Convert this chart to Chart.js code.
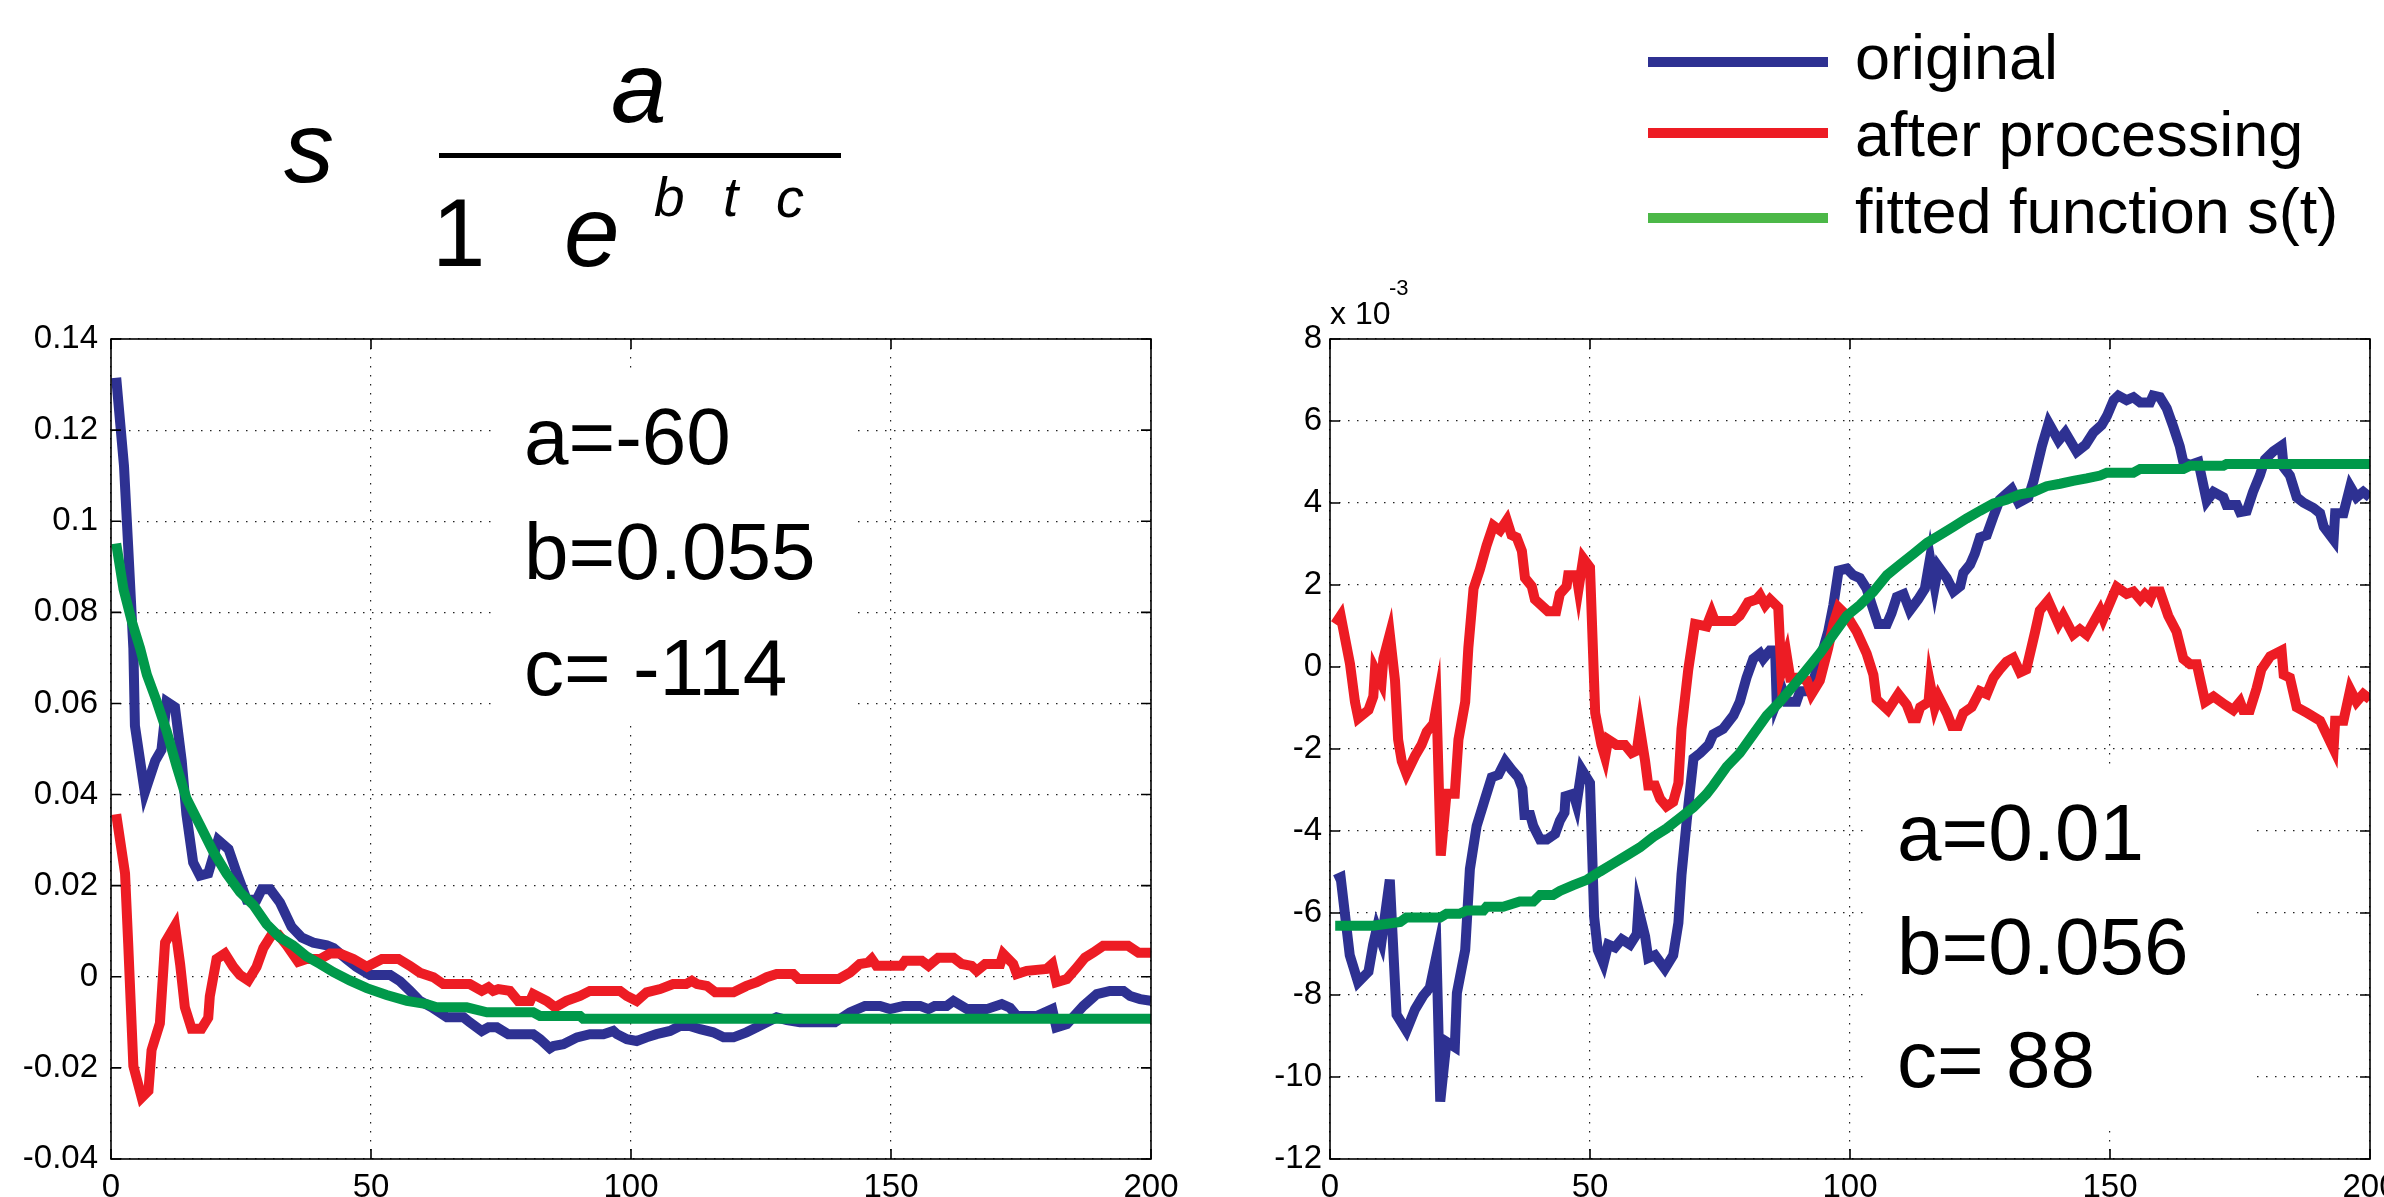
<!DOCTYPE html>
<html><head><meta charset="utf-8">
<script src="https://cdn.jsdelivr.net/npm/chart.js@4.4.1/dist/chart.umd.min.js"></script>
<style>
html,body{margin:0;padding:0;background:#fff;overflow:hidden;width:2384px;height:1197px;}
body{position:relative;font-family:"Liberation Sans",Arial,Helvetica,sans-serif;color:#000;}
.abs{position:absolute;white-space:pre;line-height:1;}
.box{position:absolute;background:#fff;}
canvas{position:absolute;top:300px;}
</style></head><body>
<canvas id="cl" width="1200" height="897" style="left:0px"></canvas>
<canvas id="cr" width="1190" height="897" style="left:1230px"></canvas>
<div id="overlay"></div>
<script>
// ---------- tick values & labels ----------
const xTicks = [0, 50, 100, 150, 200];
const xTickLabels = ['0', '50', '100', '150', '200'];
const leftYTicks = [-0.04, -0.02, 0, 0.02, 0.04, 0.06, 0.08, 0.1, 0.12, 0.14];
const leftYTickLabels = ['-0.04', '-0.02', '0', '0.02', '0.04', '0.06', '0.08', '0.1', '0.12', '0.14'];
const rightYTicks = [-12, -10, -8, -6, -4, -2, 0, 2, 4, 6, 8];
const rightYTickLabels = ['-12', '-10', '-8', '-6', '-4', '-2', '0', '2', '4', '6', '8'];
const seriesNames = ['original', 'after processing', 'fitted function s(t)'];

// ---------- left panel data (t, value) ----------
const leftOrigT = [1,2.5,3.3,4.3,4.6,6.5,8.5,9.7,10.7,12.3,13.6,14.5,15.8,17.1,18.7,20.6,22.6,24.2,26.1,28,29,30.6,32.5,34.7,36.7,38.9,41.5,42.8,45.3,47.2,49.8,53.7,55.6,57.5,59.4,61.7,64.6,67.8,69,71.3,72.6,74.2,76.4,81.2,82.5,84.4,85.1,87,89.6,92.1,94.7,96.6,97.3,99.2,101.1,103,104.9,107.5,109.4,111.3,113.3,115.8,117.8,119.7,122.2,124.2,126.1,128,130,132.5,139.2,142.1,145,147.9,149.8,152.4,155.6,157.2,158.4,160.7,162,164.6,168.4,171.3,172.9,174.2,178,181,181.8,183.8,187,189.6,192.1,194.7,196,197.9,200];
const leftOrigV = [0.1315,0.1121,0.0945,0.0721,0.0551,0.0405,0.0474,0.0498,0.0604,0.0592,0.0474,0.0357,0.0251,0.0222,0.0227,0.0300,0.0280,0.0227,0.0169,0.0169,0.0192,0.0192,0.0163,0.0110,0.0086,0.0075,0.0069,0.0063,0.0039,0.0022,0.0004,0.0004,-0.0010,-0.0031,-0.0053,-0.0067,-0.0089,-0.0089,-0.0100,-0.0119,-0.0111,-0.0111,-0.0126,-0.0126,-0.0137,-0.0157,-0.0152,-0.0148,-0.0133,-0.0126,-0.0126,-0.0119,-0.0126,-0.0137,-0.0141,-0.0133,-0.0126,-0.0119,-0.0108,-0.0108,-0.0115,-0.0122,-0.0133,-0.0133,-0.0122,-0.0111,-0.0100,-0.0089,-0.0095,-0.0100,-0.0100,-0.0078,-0.0064,-0.0064,-0.0071,-0.0064,-0.0064,-0.0071,-0.0064,-0.0064,-0.0053,-0.0071,-0.0071,-0.0060,-0.0068,-0.0086,-0.0086,-0.0071,-0.0111,-0.0104,-0.0064,-0.0038,-0.0031,-0.0031,-0.0042,-0.0049,-0.0053];

const leftProcT = [1,2.7,3.3,4.3,5.9,7.2,7.8,9.4,10.4,12.3,13.3,14.2,15.5,17.4,18.7,19,20.3,21.9,23.5,24.8,26.4,28,29.3,30.9,32.2,33.8,36,37.6,40.2,42.1,44,46.6,49.2,52.1,55.3,57.5,59.4,62,63.9,69,71.3,72.6,73.5,74.5,76.7,78.3,80.6,81.2,83.8,85.4,87.6,90.2,92.1,97.9,99.2,101.1,103,105.6,108.1,110.6,111.7,112.7,114.6,116.2,119.7,122.2,124.2,126.1,128,131.2,132.2,139.9,142.1,144,145.6,146.3,147.2,152,152.7,155.9,157.2,159.1,162,163.6,165.5,166.5,168.1,171,171.6,173.5,174.2,176.1,179.9,181,181.8,183.8,185.7,187.3,188.9,190.8,195.6,197.6,200];
const leftProcV = [0.0357,0.0227,0.0075,-0.0196,-0.0265,-0.0250,-0.0161,-0.0102,0.0075,0.0112,0.0027,-0.0067,-0.0114,-0.0114,-0.0090,-0.0043,0.0039,0.0051,0.0022,0.0004,-0.0008,0.0022,0.0063,0.0092,0.0092,0.0069,0.0033,0.0039,0.0039,0.0051,0.0051,0.0039,0.0022,0.0039,0.0039,0.0024,0.0009,-0.0001,-0.0016,-0.0016,-0.0031,-0.0023,-0.0031,-0.0027,-0.0031,-0.0053,-0.0053,-0.0038,-0.0053,-0.0067,-0.0053,-0.0042,-0.0031,-0.0031,-0.0042,-0.0053,-0.0034,-0.0027,-0.0016,-0.0016,-0.0009,-0.0016,-0.0020,-0.0034,-0.0034,-0.0020,-0.0012,-0.0001,0.0006,0.0006,-0.0005,-0.0005,0.0009,0.0028,0.0031,0.0039,0.0024,0.0024,0.0035,0.0035,0.0024,0.0042,0.0042,0.0028,0.0024,0.0013,0.0028,0.0028,0.0050,0.0028,0.0006,0.0013,0.0017,0.0028,-0.0012,-0.0005,0.0020,0.0042,0.0053,0.0068,0.0068,0.0053,0.0053];

const leftFitT = [1,2.4,4,5.6,6.9,8.8,10.7,12.6,14.5,17.1,19.7,22.2,24.8,27.4,29.9,32.5,35,37.6,40.2,42.8,45.9,49.2,53,56.9,60.7,62.6,68.4,72.3,81.2,82.5,90.2,90.8,200];
const leftFitV = [0.0951,0.0851,0.0780,0.0721,0.0663,0.0604,0.0539,0.0463,0.0392,0.0333,0.0274,0.0227,0.0186,0.0157,0.0116,0.0086,0.0069,0.0045,0.0028,0.0010,-0.0008,-0.0025,-0.0040,-0.0053,-0.0060,-0.0067,-0.0067,-0.0078,-0.0078,-0.0086,-0.0086,-0.0092,-0.0092];

// ---------- right panel data (t, value x 10^-3) ----------
const rightOrigT = [1,2.05,3.8,5.4,7.4,8.3,9,9.9,11.5,12.8,14.7,16.35,17.9,19.2,20.5,21.2,22.4,24,24.4,26,26.9,28.2,29.8,31.1,32.4,33.7,34.9,36.2,37,37.4,38.5,39.1,40.4,41.7,43.3,44.2,45.1,45.3,46.8,47.4,48.4,50,50.8,51.5,52.6,53.5,54.8,56.1,57.7,59,59.3,60.6,61.2,62.5,64.4,66,67,67.6,68.6,69.9,71.2,72.8,73.7,75.6,77.6,78.8,80.1,81.4,82.7,83.3,84.6,85.6,85.9,86.9,87.8,89.7,90.4,92.3,93.3,94.6,95.8,96.8,97.8,99.4,100.6,101.9,103.2,104.2,105.4,107.1,108,109,110.3,111.5,113.1,114.4,115.4,116.3,117,118.6,119.9,121.2,121.8,123.1,124,125,126.3,127.6,128.8,131.1,132.4,134.3,135.3,136.9,138.2,140.1,141.4,143.6,145.3,146.8,148.4,149.4,150.7,151.6,153.2,154.5,155.8,157.7,158.3,159.6,160.9,162.2,163.4,164.1,165.4,167,168.6,169.9,171.8,172.4,174.4,175,176.3,177.5,178.8,179.8,181.4,183,183.4,184.6,185.9,187.2,189.1,190.4,191.1,193,193.3,194.9,196.2,197.4,198.7,200];
const rightOrigV = [-5.19,-5.13,-7.03,-7.69,-7.43,-6.77,-6.38,-6.70,-5.19,-8.48,-8.87,-8.35,-8.02,-7.82,-7.03,-10.6,-9.14,-9.27,-7.95,-6.90,-4.93,-3.88,-3.22,-2.69,-2.63,-2.30,-2.50,-2.69,-2.96,-3.61,-3.61,-3.88,-4.21,-4.21,-4.07,-3.75,-3.55,-3.15,-3.09,-3.35,-2.50,-2.83,-6.10,-6.90,-7.23,-6.77,-6.84,-6.64,-6.77,-6.51,-5.90,-6.57,-7.10,-7.03,-7.36,-7.03,-6.24,-5.06,-3.75,-2.23,-2.10,-1.90,-1.64,-1.51,-1.18,-0.85,-0.26,0.20,0.33,0.20,0.40,0.40,-0.85,-0.52,-0.85,-0.85,-0.59,-0.59,-0.19,0.33,0.86,1.51,2.35,2.40,2.24,2.17,1.91,1.51,1.05,1.05,1.32,1.71,1.78,1.38,1.65,1.91,2.65,1.97,2.45,2.17,1.84,1.97,2.30,2.50,2.76,3.16,3.22,3.68,4.08,4.34,4.01,4.14,4.54,5.39,5.95,5.52,5.72,5.25,5.42,5.72,5.90,6.12,6.51,6.62,6.51,6.58,6.45,6.45,6.62,6.58,6.31,5.85,5.39,5.00,4.93,5.00,4.05,4.27,4.14,3.95,3.95,3.78,3.81,4.27,4.67,5.06,5.26,5.40,4.87,4.67,4.14,4.01,3.88,3.75,3.42,3.10,3.75,3.75,4.40,4.14,4.27,4.14];

const rightProcT = [1,2.05,3.85,4.8,5.45,7.4,8.33,8.65,9.9,10.26,11.5,12.5,13.1,13.8,14.7,16.35,17.6,18.6,19.9,20.5,21.3,22.4,24,24.7,26,26.6,27.6,28.8,30.1,31.4,32.7,34,34.9,35.9,36.9,37.5,38.8,39.4,41.9,43.5,44.2,45.5,45.8,47.4,47.8,48.7,50,51,52.2,52.9,53.5,55.1,56.7,58,59,59.6,60.6,61.2,62.5,63.5,64.7,66,67,67.6,68.9,70.2,72.4,73.4,74,77.6,78.8,80.4,82,82.7,83.7,84.6,86.2,86.8,87.8,88.5,90.1,91.7,92.6,94.2,95.8,96.8,97.8,99.4,101.3,103.2,104.5,105.1,107.3,109.3,110.9,111.9,112.8,113.5,115.1,115.4,116.3,117,118.6,119.6,120.8,121.8,123.4,125,126.3,127.6,128.8,130.1,131.4,132.7,133.9,135.6,136.5,138.1,140.1,141,142.9,144.2,145.5,148.1,148.7,150.7,151.3,153.2,154.5,155.8,156.7,157.7,158.3,159.6,161.2,162.8,164.1,165.4,166.7,168.3,169.9,172.1,173.7,175,175.6,176.9,178.2,179.1,180.8,183,183.4,184.6,185.9,187.9,190.4,193,193.3,194.9,196.2,197.4,198.7,200];
const rightProcV = [1.05,1.25,0.07,-0.85,-1.25,-1.05,-0.72,-0.06,-0.39,0.20,0.80,-0.33,-1.77,-2.30,-2.60,-2.17,-1.90,-1.58,-1.38,-0.95,-4.60,-3.09,-3.09,-1.77,-0.85,0.46,1.91,2.37,2.96,3.45,3.33,3.58,3.22,3.16,2.83,2.17,1.97,1.65,1.36,1.36,1.78,1.97,2.24,2.24,1.91,2.65,2.43,-1.12,-1.90,-2.20,-1.77,-1.90,-1.90,-2.10,-2.04,-1.50,-2.30,-2.89,-2.89,-3.22,-3.40,-3.29,-2.83,-1.51,-0.06,1.05,0.99,1.32,1.12,1.12,1.25,1.58,1.65,1.75,1.51,1.65,1.45,-0.13,0.30,-0.26,-0.26,-0.33,-0.66,-0.33,0.46,1.05,1.45,1.25,0.86,0.33,-0.19,-0.79,-1.05,-0.66,-0.92,-1.25,-1.25,-0.98,-0.85,-0.40,-0.98,-0.72,-1.12,-1.44,-1.44,-1.12,-0.98,-0.59,-0.66,-0.26,-0.06,0.13,0.22,-0.13,-0.06,0.86,1.38,1.62,1.05,1.25,0.79,0.92,0.79,1.38,1.18,1.78,1.95,1.78,1.84,1.65,1.78,1.65,1.84,1.84,1.25,0.86,0.20,0.07,0.07,-0.85,-0.72,-0.92,-1.05,-0.85,-1.05,-1.05,-0.52,-0.06,0.26,0.40,-0.19,-0.26,-0.98,-1.12,-1.31,-2.00,-1.31,-1.31,-0.55,-0.85,-0.66,-0.79];

const rightFitT = [1,8.3,13.5,14.7,21.2,22.4,24.9,26.3,29.5,30.1,33.3,36.5,39.1,40.4,42.9,44.2,46.8,49.4,51.9,54.4,57,59.6,62.2,64.7,67.3,69.9,72.4,73.7,76.3,78.8,81.4,84,86.5,89.1,91.7,94.2,96.8,99.4,101.9,104.5,107.1,109.6,112.2,114.8,117.3,119.9,122.4,125,127.6,130.1,132.7,135.3,137.8,140.4,142.9,145.5,148.1,149.4,154.5,155.8,164.1,165.4,171.8,172.4,200];
const rightFitV = [-6.31,-6.31,-6.22,-6.11,-6.11,-6.02,-6.02,-5.94,-5.94,-5.85,-5.85,-5.72,-5.72,-5.56,-5.56,-5.46,-5.32,-5.19,-4.99,-4.80,-4.60,-4.40,-4.14,-3.94,-3.68,-3.42,-3.10,-2.89,-2.43,-2.10,-1.64,-1.18,-0.85,-0.46,-0.06,0.33,0.79,1.25,1.51,1.84,2.24,2.50,2.76,3.03,3.22,3.42,3.62,3.81,3.99,4.08,4.21,4.27,4.41,4.47,4.54,4.60,4.67,4.74,4.74,4.83,4.83,4.91,4.91,4.95,4.95];

// ---------- styles ----------
const BLUE = '#2E3192', RED = '#ED1C24', GREEN = '#00994A', GREEN_LEG = '#4CB848';
const FONT = '"Liberation Sans", Arial, Helvetica, sans-serif';

const pts = (t, v) => t.map((x, i) => ({ x: x, y: v[i] }));

const frame = {
  id: 'frame',
  afterDraw(chart) {
    const { ctx, chartArea: a, scales } = chart;
    ctx.save();
    ctx.strokeStyle = '#000';
    ctx.lineWidth = 1.6;
    ctx.setLineDash([]);
    const L = 10;
    ctx.beginPath();
    scales.x.ticks.forEach(tk => {
      const px = scales.x.getPixelForValue(tk.value);
      ctx.moveTo(px, a.bottom); ctx.lineTo(px, a.bottom - L);
      ctx.moveTo(px, a.top); ctx.lineTo(px, a.top + L);
    });
    scales.y.ticks.forEach(tk => {
      const py = scales.y.getPixelForValue(tk.value);
      ctx.moveTo(a.left, py); ctx.lineTo(a.left + L, py);
      ctx.moveTo(a.right, py); ctx.lineTo(a.right - L, py);
    });
    ctx.stroke();
    ctx.strokeRect(a.left, a.top, a.right - a.left, a.bottom - a.top);
    ctx.restore();
  }
};

function makeChart(id, sets, yTicks, yLabels, yWidth, padRight, yPad) {
  const ds = [
    { label: seriesNames[2], data: pts(sets[2][0], sets[2][1]), borderColor: GREEN, order: 0 },
    { label: seriesNames[1], data: pts(sets[1][0], sets[1][1]), borderColor: RED, order: 1 },
    { label: seriesNames[0], data: pts(sets[0][0], sets[0][1]), borderColor: BLUE, order: 2 }
  ].map(d => Object.assign(d, { borderWidth: 10, pointRadius: 0, tension: 0, fill: false, clip: 0, borderJoinStyle: 'miter', borderCapStyle: 'butt' }));
  return new Chart(document.getElementById(id), {
    type: 'line',
    data: { datasets: ds },
    options: {
      responsive: false, animation: false, devicePixelRatio: 1,
      layout: { padding: { top: 39, right: padRight, left: 0, bottom: 0 } },
      plugins: { legend: { display: false }, tooltip: { enabled: false } },
      scales: {
        x: {
          type: 'linear', min: 0, max: 200,
          afterBuildTicks: s => { s.ticks = xTicks.map(v => ({ value: v })); },
          afterFit: s => { s.height = 38; },
          ticks: { callback: (v, i) => xTickLabels[i], color: '#000', padding: 9, maxRotation: 0, autoSkip: false, font: { family: FONT, size: 33 } },
          grid: { color: '#222', lineWidth: 1.2, drawTicks: false },
          border: { display: false, dash: [1.5, 7.5] }
        },
        y: {
          type: 'linear', min: yTicks[0], max: yTicks[yTicks.length - 1],
          afterBuildTicks: s => { s.ticks = yTicks.map(v => ({ value: v })); },
          afterFit: s => { s.width = yWidth; },
          ticks: { callback: (v, i) => yLabels[i], color: '#000', padding: yPad, autoSkip: false, font: { family: FONT, size: 33 } },
          grid: { color: '#222', lineWidth: 1.2, drawTicks: false },
          border: { display: false, dash: [1.5, 7.5] }
        }
      }
    },
    plugins: [frame]
  });
}

makeChart('cl', [[leftOrigT, leftOrigV], [leftProcT, leftProcV], [leftFitT, leftFitV]], leftYTicks, leftYTickLabels, 111, 49, 13);
makeChart('cr', [[rightOrigT, rightOrigV], [rightProcT, rightProcV], [rightFitT, rightFitV]], rightYTicks, rightYTickLabels, 100, 50, 8);

// ---------- text overlays ----------
const ov = document.getElementById('overlay');
function put(txt, x, base, size, italic) {
  const s = document.createElement('span');
  s.className = 'abs';
  s.textContent = txt;
  s.style.fontSize = size + 'px';
  s.style.left = x + 'px';
  s.style.top = (base - 0.8465 * size) + 'px';
  if (italic) s.style.fontStyle = 'italic';
  ov.appendChild(s);
  return s;
}
function box(x, y, w, h, color) {
  const d = document.createElement('div');
  d.className = 'box';
  d.style.left = x + 'px'; d.style.top = y + 'px';
  d.style.width = w + 'px'; d.style.height = h + 'px';
  if (color) d.style.background = color;
  ov.appendChild(d);
}
// formula
put('s', 284, 182, 100, true);
put('a', 611, 122, 100, true);
box(439, 153, 402, 5, '#000');
put('1', 432, 266, 96, false);
put('e', 564, 266, 100, true);
put('b', 654, 217, 55, true);
put('t', 723, 217, 55, true);
put('c', 776, 217, 56, true);
// legend
const legColors = [BLUE, RED, GREEN_LEG];
const legTops = [57, 128, 213];
const legBases = [79, 156, 233];
seriesNames.forEach((n, i) => {
  box(1648, legTops[i], 180, 10, legColors[i]);
  put(n, 1855, legBases[i], 63, false);
});
// exponent label
put('x 10', 1330, 324, 32, false);
put('-3', 1389, 296, 22, false);
// parameter boxes
box(493, 373, 365, 353, '#fff');
put('a=-60', 524, 465, 80, false);
put('b=0.055', 524, 580, 80, false);
put('c= -114', 524, 696, 80, false);
box(1865, 770, 387, 360, '#fff');
put('a=0.01', 1897, 861, 80, false);
put('b=0.056', 1897, 975, 80, false);
put('c= 88', 1897, 1088, 80, false);
</script>
</body></html>
